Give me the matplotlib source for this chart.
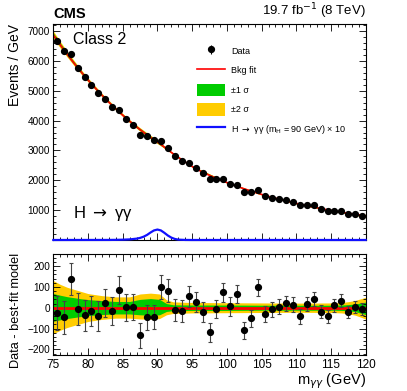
import matplotlib
matplotlib.use('Agg')
import matplotlib.pyplot as plt
import matplotlib.patches as patches
from matplotlib.lines import Line2D
from matplotlib.ticker import MultipleLocator
import numpy as np

plt.rcParams['font.family'] = ['Liberation Sans', 'DejaVu Sans']
plt.rcParams['mathtext.fontset'] = 'dejavusans'

# bin centres (GeV) and observed events / GeV
mass = np.arange(75.5, 120, 1.0)
data = [6678, 6344, 6222, 5767, 5456, 5200, 4922, 4733, 4467, 4344,
        4067, 3860, 3522, 3467, 3333, 3300, 3089, 2811, 2656, 2578,
        2411, 2256, 2044, 2056, 2033, 1889, 1856, 1611, 1600, 1667,
        1467, 1422, 1378, 1333, 1278, 1156, 1156, 1156, 1033, 978,
        978, 956, 867, 867, 811]
# data - best-fit model
resid = [-26, -45, 138, -6, -37, -18, -40, 22, -16, 85,
         2, 5, -133, -46, -46, 98, 82, -13, -16, 54,
         27, -19, -118, -6, 74, 6, 64, -109, -51, 98,
         -29, -8, 5, 22, 14, -42, 18, 42, -19, -42,
         11, 34, -21, 5, -5]

# background fit curve
fit_mass = [75.0] + list(mass) + [120.0]
bkg = [6870,
       6700, 6375, 6066, 5772, 5492, 5225, 4972, 4731, 4502, 4284,
       4076, 3880, 3695, 3520, 3355, 3200, 3020, 2850, 2690, 2535,
       2390, 2275, 2165, 2065, 1970, 1880, 1795, 1714, 1637, 1563,
       1493, 1430, 1370, 1310, 1255, 1200, 1150, 1100, 1055, 1010,
       970, 930, 895, 860, 825,
       808]

# uncertainty bands on the fit
band_x = [75, 76, 77, 78, 79, 80, 82, 84, 86, 87.5, 89, 90.3, 91.3, 92.3,
          95, 100, 105, 110, 115, 116.5, 117.5, 118.5, 119.5, 120]
s2_up = [130, 112, 98, 88, 78, 68, 58, 52, 52, 66, 70, 66, 38, 28,
         25, 24, 23, 22, 23, 25, 29, 35, 45, 50]
s2_lo = [-125, -108, -95, -85, -76, -66, -56, -50, -50, -54, -55, -52, -34, -27,
         -25, -24, -23, -22, -23, -25, -29, -36, -48, -55]
s1_up = [68, 60, 53, 48, 43, 39, 34, 30, 30, 40, 44, 40, 20, 14,
         13, 13, 12, 12, 12, 13, 15, 18, 24, 27]
s1_lo = [-65, -58, -52, -47, -42, -38, -33, -30, -30, -34, -36, -34, -18, -14,
         -13, -13, -12, -12, -12, -13, -15, -19, -28, -33]

# signal, m_H = 90 GeV, x10
sig_x = [75, 83, 84, 85, 86, 87, 87.5, 88, 88.5, 89, 89.5, 90, 90.5, 91,
         91.5, 92, 92.5, 93, 94, 95, 120]
sig_y = [0, 2, 5, 10, 20, 45, 70, 110, 170, 250, 320, 350, 320, 240,
         150, 80, 35, 12, 2, 0, 0]

green = '#00cc00'
yellow = '#ffcc00'
red = '#ff0000'
blue = '#1010ff'

fig = plt.figure(figsize=(4.07, 3.91), dpi=100)
ax = fig.add_axes([0.131, 0.3862, 0.7675, 0.5524])
axr = fig.add_axes([0.131, 0.0921, 0.7675, 0.2583])

# --- top panel ---
bkg_b = np.interp(band_x, fit_mass, bkg)
ax.fill_between(band_x, bkg_b + np.array(s2_lo), bkg_b + np.array(s2_up), color=yellow, lw=0)
ax.fill_between(band_x, bkg_b + np.array(s1_lo), bkg_b + np.array(s1_up), color=green, lw=0)
ax.plot(fit_mass, bkg, color=red, lw=1.2)
ax.plot(sig_x, sig_y, color=blue, lw=1.6, clip_on=False, zorder=4)
err = np.sqrt(data)
eb = ax.errorbar(mass, data, yerr=err, fmt='o', color='black', ms=4.2,
                 elinewidth=0.8, capsize=0, zorder=5)

ax.set_xlim(75, 120)
ax.set_ylim(0, 7234)
ax.set_yticks([1000, 2000, 3000, 4000, 5000, 6000, 7000])
ax.yaxis.set_minor_locator(MultipleLocator(200))
ax.xaxis.set_major_locator(MultipleLocator(5))
ax.xaxis.set_minor_locator(MultipleLocator(1))
ax.tick_params(axis='x', labelbottom=False)
ax.set_ylabel('Events / GeV', fontsize=10, loc='top')
ax.yaxis.set_label_coords(-0.1, 1.0)

ax.text(0.064, 0.93, 'Class 2', transform=ax.transAxes, fontsize=11.5,
        ha='left', va='center')
ax.text(0.064, 0.123, r'H $\rightarrow$ γγ', transform=ax.transAxes, fontsize=12,
        ha='left', va='center')
ax.text(0.0, 1.015, 'CMS', transform=ax.transAxes, fontsize=10.5,
        fontweight='bold', ha='left', va='bottom')
ax.text(1.0, 1.015, r'19.7 fb$^{-1}$ (8 TeV)', transform=ax.transAxes,
        fontsize=9.5, ha='right', va='bottom')

handles = [eb,
           Line2D([], [], color=red, lw=1.2),
           patches.Patch(facecolor=green, edgecolor='none'),
           patches.Patch(facecolor=yellow, edgecolor='none'),
           Line2D([], [], color=blue, lw=1.6)]
labels = ['Data', 'Bkg fit', '\u00b11 \u03c3', '\u00b12 \u03c3',
          r'H $\rightarrow$ γγ (m$_{\mathrm{H}}$ = 90 GeV) × 10']
ax.legend(handles, labels, loc='upper left', bbox_to_anchor=(0.46, 0.905),
          frameon=False, fontsize=6.5, handlelength=3.1, handleheight=1.75,
          labelspacing=0.78, handletextpad=0.65, borderpad=0, borderaxespad=0)

# --- residual panel ---
axr.fill_between(band_x, s2_lo, s2_up, color=yellow, lw=0)
axr.fill_between(band_x, s1_lo, s1_up, color=green, lw=0)
axr.axhline(0, color=red, lw=2)
axr.errorbar(mass, resid, yerr=err, fmt='o', color='black', ms=4.2,
             elinewidth=0.8, ecolor='#444444', capsize=1.5, capthick=0.8, zorder=5)
axr.set_xlim(75, 120)
axr.set_ylim(-227, 258)
axr.set_yticks([-200, -100, 0, 100, 200])
axr.yaxis.set_minor_locator(MultipleLocator(20))
axr.xaxis.set_major_locator(MultipleLocator(5))
axr.xaxis.set_minor_locator(MultipleLocator(1))
axr.set_ylabel('Data - best-fit model', fontsize=9.2)
axr.yaxis.set_label_coords(-0.1, 0.44)
axr.set_xlabel(r'm$_{\gamma\gamma}$ (GeV)', fontsize=10.5, loc='right')
axr.xaxis.set_label_coords(1.0, -0.16)

for a in (ax, axr):
    a.tick_params(which='both', direction='in', top=True, right=True)
    a.tick_params(which='major', length=5, width=0.6)
    a.tick_params(which='minor', length=2.5, width=0.6)
    a.tick_params(axis='y', labelsize=7.2, pad=2.5)
    a.tick_params(axis='x', labelsize=8.5, pad=3)
    for s in a.spines.values():
        s.set_linewidth(0.8)

fig.savefig('out.png', dpi=100)
